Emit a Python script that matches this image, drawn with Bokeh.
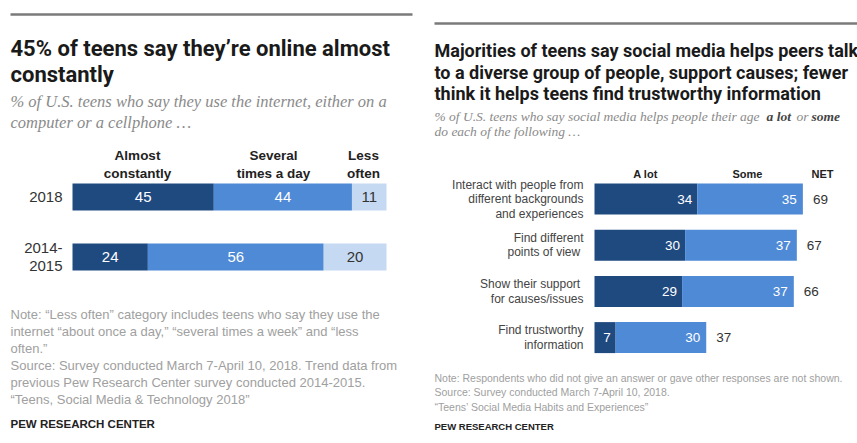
from bokeh.plotting import figure
from bokeh.models import Label, Range1d, ColumnDataSource, BoxAnnotation
from bokeh.layouts import row
from bokeh.embed import file_html
from bokeh.resources import INLINE
from bokeh.core.properties import value

# ---------------- data ----------------
years = [["2018"], ["2014-", "2015"]]
almost = [45, 24]
several = [44, 56]
less = [11, 20]
left_cols = [["Almost", "constantly"], ["Several", "times a day"], ["Less", "often"]]

items = [["Interact with people from", "different backgrounds", "and experiences"],
         ["Find different", "points  of view"],
         ["Show their  support", "for causes/issues"],
         ["Find trustworthy", "information"]]
a_lot = [34, 30, 29, 7]
some = [35, 37, 37, 30]
net = [69, 67, 66, 37]
right_cols = ["A lot", "Some", "NET"]

DARK = "#1f4a80"
MID = "#4f8ad6"
LIGHT = "#c6d9f2"
H = 443
SANS = "Liberation Sans"
TITLE = "Roboto"
SERIF = "Liberation Serif"


def make_fig(w, px0, ppu, ypx0, yspace):
    xr = Range1d(-px0 / ppu, (w - px0) / ppu)
    yr = Range1d((H - ypx0) / yspace, -ypx0 / yspace)
    p = figure(width=w, height=H, x_range=xr, y_range=yr, output_backend="svg",
               toolbar_location=None, x_axis_type=None, y_axis_type=None,
               min_border=0, outline_line_color=None, background_fill_color="white",
               border_fill_color="white")
    p.grid.visible = False
    return p


def lab(p, x, y, text, size, color, style="normal", font=SANS, align="left", baseline="alphabetic"):
    p.add_layout(Label(x=x, y=H - y, x_units="screen", y_units="screen", text=text,
                       text_font=font, text_font_size=f"{size}px", text_color=color,
                       text_font_style=style, text_align=align, text_baseline=baseline))


def hline(p, x1, x2, y):
    p.add_layout(BoxAnnotation(left=x1, right=x2, top=H - y + 1.2, bottom=H - y - 1.2,
                               left_units="screen", right_units="screen",
                               top_units="screen", bottom_units="screen",
                               fill_color="#7a7a7a", fill_alpha=1, line_color=None, level="overlay"))


# ---------------- left chart ----------------
WL = 420
pl = make_fig(WL, 72, 3.14, 196.5, 60)
hline(pl, 10, 412, 14)
lab(pl, 10, 47.5, "45% of teens say they\u2019re online almost", 22, "#1a1a1a", "bold", TITLE)
lab(pl, 10, 74, "constantly", 22, "#1a1a1a", "bold", TITLE)
lab(pl, 10, 101, "% of U.S. teens who say they use the internet, either on a", 16.5, "#8a8a8a", "italic", SERIF)
lab(pl, 10, 122, "computer or a cellphone \u2026", 16.5, "#8a8a8a", "italic", SERIF)

idx = list(range(len(almost)))
s1 = [a + b for a, b in zip(almost, several)]
s2 = [a + b for a, b in zip(s1, less)]
pl.hbar(y=idx, left=0, right=almost, height=27 / 60, fill_color=DARK, line_color=None)
pl.hbar(y=idx, left=almost, right=s1, height=27 / 60, fill_color=MID, line_color=None)
pl.hbar(y=idx, left=s1, right=s2, height=27 / 60, fill_color=LIGHT, line_color=None)

vx, vy, vt, vc = [], [], [], []
for i in idx:
    for lo, hi, c in ((0, almost[i], "white"), (almost[i], s1[i], "white"), (s1[i], s2[i], "#333333")):
        vx.append((lo + hi) / 2); vy.append(i); vt.append(str(hi - lo)); vc.append(c)
pl.text(x="x", y="y", text="t", text_color="c", source=ColumnDataSource(dict(x=vx, y=vy, t=vt, c=vc)),
        text_font=value(SANS), text_font_size="15px", text_align="center", text_baseline="middle")

# row labels
rx, ry, rt, ro = [], [], [], []
for i, lines in enumerate(years):
    n = len(lines)
    for k, t in enumerate(lines):
        rx.append(0); ry.append(i); rt.append(t); ro.append((k - (n - 1) / 2) * 18)
pl.text(x="x", y="y", text="t", y_offset="o", source=ColumnDataSource(dict(x=rx, y=ry, t=rt, o=ro)),
        x_offset=-10, text_font=value(SANS), text_font_size="15px", text_color="#333333",
        text_align="right", text_baseline="middle")

# column headers
for cx, lines in zip([137, 273, 363], left_cols):
    for k, t in enumerate(lines):
        lab(pl, cx, 155 + k * 18, t, 13.5, "#222222", "bold", SANS, "center", "middle")

notes_l = ["Note: \u201cLess often\u201d category includes teens who say they use the",
           "internet \u201cabout once a day,\u201d \u201cseveral times a week\u201d and \u201cless",
           "often.\u201d",
           "Source: Survey conducted March 7-April 10, 2018. Trend data from",
           "previous Pew Research Center survey conducted 2014-2015.",
           "\u201cTeens, Social Media & Technology 2018\u201d"]
for k, t in enumerate(notes_l):
    lab(pl, 10, 314 + k * 17, t, 13, "#a0a0a0", "normal", SANS, "left", "middle")
lab(pl, 10, 423, "PEW RESEARCH CENTER", 11.5, "#222222", "bold", SANS, "left", "middle")

# ---------------- right chart ----------------
WR = 437
pr = make_fig(WR, 174, 3.02, 198.5, 46.2)
hline(pr, 14, WR, 23)
tl = ["Majorities of teens say social media helps peers talk",
      "to a diverse group of people, support causes; fewer",
      "think it helps teens find trustworthy information"]
for k, t in enumerate(tl):
    lab(pr, 14, 50 + k * 21.5, t, 18, "#1a1a1a", "bold", TITLE)
lab(pr, 14, 116, "% of U.S. teens who say social media helps people their age", 13.5, "#8a8a8a", "italic", SERIF)
lab(pr, 346, 116, "a lot", 13.5, "#444444", "bold italic", SERIF)
lab(pr, 376, 116, "or", 13.5, "#8a8a8a", "italic", SERIF)
lab(pr, 391, 116, "some", 13.5, "#444444", "bold italic", SERIF)
lab(pr, 14, 131, "do each of the following \u2026", 13.5, "#8a8a8a", "italic", SERIF)

ridx = list(range(len(a_lot)))
tot = [a + b for a, b in zip(a_lot, some)]
bh = 31 / 46.2
pr.hbar(y=ridx, left=0, right=a_lot, height=bh, fill_color=DARK, line_color=None)
pr.hbar(y=ridx, left=a_lot, right=tot, height=bh, fill_color=MID, line_color=None)

src_a = ColumnDataSource(dict(x=a_lot, y=ridx, t=[str(v) for v in a_lot]))
pr.text(x="x", y="y", text="t", source=src_a, x_offset=-5, text_font=value(SANS),
        text_font_size="13.5px", text_color="white", text_align="right", text_baseline="middle")
src_s = ColumnDataSource(dict(x=tot, y=ridx, t=[str(v) for v in some]))
pr.text(x="x", y="y", text="t", source=src_s, x_offset=-6, text_font=value(SANS),
        text_font_size="13.5px", text_color="white", text_align="right", text_baseline="middle")
src_n = ColumnDataSource(dict(x=tot, y=ridx, t=[str(v) for v in net]))
pr.text(x="x", y="y", text="t", source=src_n, x_offset=10, text_font=value(SANS),
        text_font_size="13.5px", text_color="#333333", text_align="left", text_baseline="middle")

ix, iy, it, io = [], [], [], []
for i, lines in enumerate(items):
    n = len(lines)
    for k, t in enumerate(lines):
        ix.append(0); iy.append(i); it.append(t); io.append((k - (n - 1) / 2) * 14.5)
pr.text(x="x", y="y", text="t", y_offset="o", source=ColumnDataSource(dict(x=ix, y=iy, t=it, o=io)),
        x_offset=-11, text_font=value(SANS), text_font_size="12px", text_color="#444444",
        text_align="right", text_baseline="middle")

for cx, t in zip([225, 327, 402], right_cols):
    lab(pr, cx, 173, t, 11, "#222222", "bold", SANS, "center", "middle")

notes_r = ["Note: Respondents who did not give an answer or gave other responses are not shown.",
           "Source: Survey conducted March 7-April 10, 2018.",
           "\u201cTeens\u2019 Social Media Habits and Experiences\u201d"]
for k, t in enumerate(notes_r):
    lab(pr, 14, 377 + k * 14.5, t, 10.5, "#a0a0a0", "normal", SANS, "left", "middle")
lab(pr, 14, 426, "PEW RESEARCH CENTER", 9.5, "#222222", "bold", SANS, "left", "middle")

layout = row(pl, pr, spacing=0)
open("out.html", "w").write(file_html(layout, INLINE))
